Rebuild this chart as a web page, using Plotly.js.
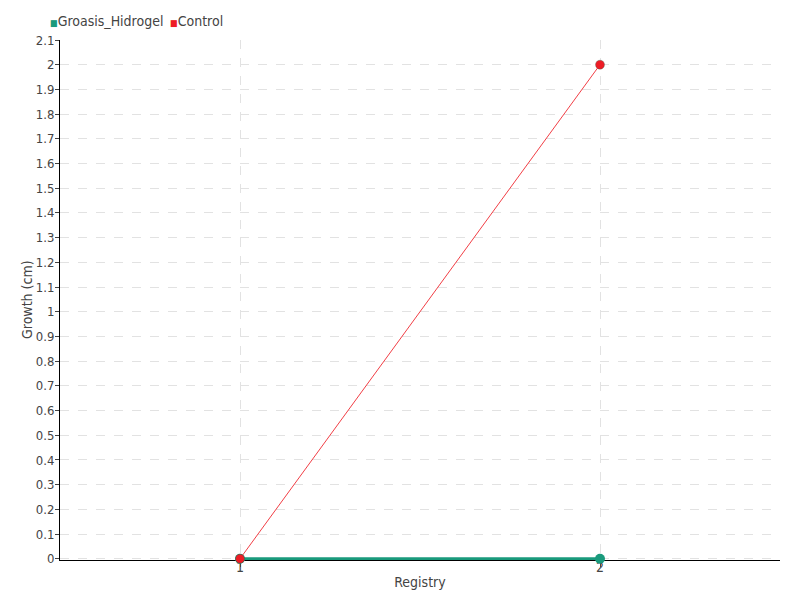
<!DOCTYPE html>
<html>
<head>
<meta charset="utf-8">
<script src="https://cdn.plot.ly/plotly-3.0.1.min.js"></script>
<style>html,body{margin:0;padding:0;background:#fff;}#chart{width:800px;height:600px;}</style>
</head>
<body>
<div id="chart"></div>
<script>
const registry = [1, 2];
const groasisHidrogel = [0, 0];
const control = [0, 2];
const seriesNames = ["Groasis_Hidrogel", "Control"];
const yTicks = [0,0.1,0.2,0.3,0.4,0.5,0.6,0.7,0.8,0.9,1,1.1,1.2,1.3,1.4,1.5,1.6,1.7,1.8,1.9,2,2.1];

const teal = "#1a9a7c";
const red = "#ee1c25";
const colors = [teal, red];
const font = "DejaVu Sans Condensed, Roboto, sans-serif";

const traces = [
  {x: registry, y: groasisHidrogel, name: seriesNames[0], mode: "lines+markers", cliponaxis: false,
   line: {color: teal, width: 3}, marker: {color: teal, size: 10}, showlegend: false},
  {x: registry, y: control, name: seriesNames[1], mode: "lines+markers", cliponaxis: false,
   line: {color: "rgba(238,28,37,0.85)", width: 1}, marker: {color: red, size: 9, line: {color: "rgba(26,100,80,0.6)", width: 0.5}}, showlegend: false}
];

const annotations = [];
let xPos = 48;
seriesNames.forEach((n, i) => {
  annotations.push({xref: "paper", yref: "paper", x: (xPos - 60) / 720, y: 1, yshift: 19, xanchor: "left", yanchor: "middle",
    showarrow: false, align: "left",
    text: '<span style="color:' + colors[i] + ';font-size:9px">■</span>' + n, font: {size: 14, color: "#444"}});
  xPos += n === seriesNames[0] ? 120 : 0;
});
annotations.push({xref: "paper", yref: "paper", x: 0, xshift: -33, y: 0.5, textangle: -90,
  xanchor: "center", yanchor: "middle", showarrow: false, text: "Growth (cm)", font: {size: 14, color: "#444"}});

const layout = {
  width: 800, height: 600,
  margin: {l: 60, r: 20, t: 40, b: 40},
  paper_bgcolor: "#fff", plot_bgcolor: "#fff",
  font: {family: font, size: 14, color: "#444"},
  showlegend: false,
  annotations: annotations,
  xaxis: {range: [0.5, 2.5], tickvals: registry, ticktext: registry.map(String), layer: "below traces",
          showline: true, linecolor: "#000", linewidth: 1, ticks: "outside", ticklen: 6, tickcolor: "#444",
          ticklabelstandoff: -12,
          showgrid: true, gridcolor: "#e2e2e2", griddash: "dash", zeroline: false,
          title: {text: "Registry", font: {size: 14, color: "#444"}, standoff: 3}},
  yaxis: {range: [-0.005, 2.1], tickvals: yTicks, ticktext: yTicks.map(String), layer: "below traces",
          tickfont: {size: 13, color: "#444"},
          showline: true, linecolor: "#000", linewidth: 1, ticks: "outside", ticklen: 4, tickcolor: "#444",
          ticklabelstandoff: -2,
          showgrid: true, gridcolor: "#e2e2e2", griddash: "dash", zeroline: false}
};

Plotly.newPlot("chart", traces, layout, {displayModeBar: false});
</script>
</body>
</html>
